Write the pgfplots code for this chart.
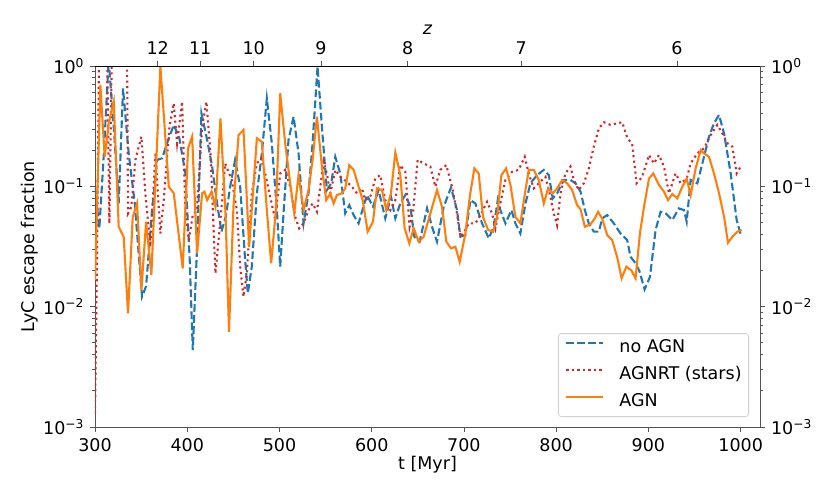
\documentclass[border=0pt]{standalone}
\usepackage{fontspec}
\setmainfont{DejaVu Sans}
\usepackage{pgfplots}
\pgfplotsset{compat=1.18}
\definecolor{tabblue}{HTML}{1F77B4}
\definecolor{tabred}{HTML}{D62728}
\definecolor{taborange}{HTML}{FF7F0E}
\definecolor{spine}{HTML}{555555}
\begin{document}
\fontsize{17.5}{21}\selectfont
\begin{tikzpicture}
\begin{axis}[name=main,
  scale only axis, width=665pt, height=361pt,
  xmin=300, xmax=1021, ymode=log, ymin=1e-3, ymax=1,
  ytick={0.001,0.01,0.1,1},
  yticklabels={10\textsuperscript{−3},10\textsuperscript{−2},10\textsuperscript{−1},10\textsuperscript{0}},
  /pgf/number format/assume math mode=true,
  /pgf/number format/1000 sep={},
  tick align=outside, major tick length=5pt, minor tick length=3pt,
  tick style={spine, line width=0.8pt},
  axis x line*=bottom, axis y line*=left,
  axis line style={spine, line width=0.8pt},
  xtick={300,400,...,1000},
  xlabel={t [Myr]}, ylabel={LyC escape fraction},
  xlabel style={at={(axis description cs:0.5,-0.105)}, anchor=center},
  ylabel style={at={(axis description cs:-0.0977,0.5)}, anchor=center},
  legend cell align=left,
  legend style={at={(1,0)}, anchor=south east, xshift=-11pt, yshift=10pt,
    draw=black!18, line width=0.8pt, rounded corners=3pt, fill=white, fill opacity=0.8, text opacity=1,
    inner xsep=7pt, inner ysep=6pt, row sep=10pt,
    nodes={inner sep=0pt, text height=13pt, text depth=4pt}},
  legend image code/.code={\draw[#1] (0pt,5pt) -- (37pt,5pt); \path (52pt,5pt);},
]
\addplot[tabblue, line width=2.1pt, dash pattern=on 7.7pt off 3.3pt] coordinates {
(300,0.099)(304.7,0.0447)(309.4,0.176)(314.8,1.12)(320.3,0.313)(325.7,0.0724)(330.4,0.652)(336.5,0.188)(343.1,0.0724)(351,0.0121)(355.4,0.0148)(361.9,0.0635)(367.3,0.166)(372.7,0.171)(378.1,0.228)(385.4,0.324)(391.5,0.251)(398,0.128)(402.7,0.0244)(406,0.00436)(410.7,0.0315)(415.4,0.405)(421.6,0.243)(427,0.146)(432.4,0.0721)(437.1,0.042)(442,0.057)(446.5,0.0993)(451.9,0.166)(457.4,0.0993)(462.8,0.0244)(465.7,0.0129)(470,0.0215)(475.5,0.0875)(480.9,0.188)(486.3,0.538)(491.7,0.228)(497.2,0.0635)(500.8,0.0215)(504.4,0.0596)(509.8,0.243)(515.3,0.379)(520.7,0.188)(526.1,0.0492)(531.5,0.0875)(535.9,0.228)(541.3,0.989)(546,0.313)(551.4,0.0931)(556.1,0.106)(560.5,0.176)(565.9,0.128)(571.3,0.0596)(575.7,0.0698)(580.4,0.0577)(585.8,0.0492)(589,0.06)(594.8,0.0847)(601.4,0.0678)(607.5,0.0931)(614.7,0.0542)(620.9,0.082)(625.6,0.0542)(631,0.0721)(636.4,0.0847)(641.9,0.0678)(646.2,0.0381)(652,0.0347)(660,0.0656)(665.4,0.0461)(670.8,0.0347)(678.1,0.0678)(686,0.0979)(692.5,0.0635)(696.1,0.0381)(701.6,0.0394)(707,0.0769)(712.4,0.0721)(719.7,0.0492)(726.9,0.037)(732.3,0.0461)(736.7,0.0769)(739.5,0.0635)(745,0.0492)(751.5,0.0635)(755.8,0.0492)(761.2,0.0406)(766.7,0.0721)(772.1,0.106)(779.3,0.124)(786.6,0.137)(792,0.124)(796.3,0.0794)(801,0.0875)(808.3,0.113)(815.5,0.113)(820.9,0.106)(826.4,0.0904)(831.1,0.0635)(835.4,0.0492)(840.8,0.042)(846.3,0.042)(849.9,0.0542)(855.3,0.0577)(862.5,0.0492)(869.8,0.0406)(877,0.0358)(880.6,0.026)(886.1,0.0229)(890,0.02)(895.9,0.0139)(901.7,0.0177)(907.8,0.0434)(913.2,0.0615)(918.7,0.0596)(925.9,0.0525)(933.1,0.0656)(938.6,0.0635)(941.5,0.0508)(945.8,0.113)(953,0.106)(958.5,0.155)(965.7,0.259)(971.1,0.334)(976.6,0.392)(982,0.275)(989.2,0.128)(995.7,0.0525)(1000.8,0.0381)
};
\addlegendentry{no AGN}
\addplot[tabred, line width=2.1pt, dash pattern=on 2.1pt off 3.4pt] coordinates {
(300,0.0013)(302,0.02)(304.5,1.5)(309.4,1.5)(313,1.5)(315.6,0.0492)(318.4,1.5)(326,2)(334.7,1.5)(335.8,0.0596)(339.4,0.0676)(343.8,0.166)(350.3,0.259)(354.6,0.0871)(360.1,0.0316)(365.5,0.188)(370.9,0.0406)(374.5,0.0769)(380.7,0.313)(385.4,0.49)(389,0.228)(394.4,0.506)(398,0.0635)(401.7,0.0358)(406,0.0577)(410.5,0.063)(416.1,0.313)(420.8,0.506)(425.2,0.188)(430.6,0.0189)(436,0.0525)(441.1,0.155)(448.3,0.113)(453.8,0.0635)(457.4,0.0215)(461,0.0121)(464.6,0.0189)(470,0.0875)(475.5,0.155)(480.2,0.171)(484.5,0.128)(489.9,0.082)(495.4,0.0525)(500.8,0.128)(506.2,0.137)(511.6,0.0993)(517.1,0.0558)(521.4,0.0447)(526.1,0.0492)(531.5,0.0635)(535.9,0.0721)(540.6,0.0615)(544.2,0.0993)(547.8,0.16)(551.4,0.128)(555.1,0.0875)(560.5,0.137)(565.9,0.12)(573.1,0.109)(578.6,0.0993)(584,0.0875)(589.4,0.0962)(593,0.0769)(598.5,0.082)(603.9,0.116)(609.3,0.124)(614.7,0.0769)(620.2,0.0635)(625.6,0.0769)(631,0.15)(636.4,0.132)(641.1,0.0461)(645,0.063)(649.8,0.166)(656.3,0.155)(663.6,0.146)(669,0.0993)(674.4,0.137)(680.9,0.15)(687.1,0.0993)(692.5,0.0596)(696.1,0.0381)(700.5,0.042)(705.2,0.0492)(712.4,0.0492)(717.9,0.0577)(725.1,0.0745)(730.5,0.0596)(734.1,0.0448)(739.5,0.0721)(745,0.113)(752.2,0.132)(759.4,0.137)(765.9,0.176)(770.3,0.128)(775.7,0.0962)(781.1,0.106)(788.4,0.12)(793.8,0.082)(797.4,0.0596)(801,0.0476)(804.7,0.0875)(810.1,0.128)(815.5,0.146)(819.1,0.113)(824.5,0.0933)(830,0.106)(835.4,0.141)(840.8,0.214)(846.3,0.303)(851.7,0.341)(858.9,0.324)(866.2,0.334)(871.6,0.341)(877,0.254)(882.4,0.224)(887.2,0.106)(893.3,0.12)(900.6,0.182)(906,0.155)(911.4,0.182)(916.9,0.146)(922.3,0.0875)(929.5,0.128)(935,0.106)(941.5,0.116)(945.8,0.155)(953,0.188)(960.3,0.207)(967.5,0.267)(974.7,0.324)(980.2,0.275)(985.6,0.228)(991,0.214)(995.7,0.128)(1000.8,0.15)
};
\addlegendentry{AGNRT (stars)}
\addplot[taborange, line width=2.1pt] coordinates {
(300,0.0166)(305.8,0.695)(310.5,0.176)(314.8,0.333)(320.3,0.506)(325.7,0.0461)(331.1,0.0381)(335.8,0.00879)(340.9,0.0558)(345.6,0.0721)(350.3,0.0137)(355.4,0.0508)(361.1,0.0183)(370.9,0.989)(380,0.0993)(385.4,0.0875)(395.1,0.0208)(400.9,0.207)(405.3,0.259)(410.7,0.0277)(416.1,0.0875)(418.7,0.0902)(421.6,0.0769)(426.3,0.0902)(430.6,0.0676)(436,0.367)(441.5,0.0596)(445.3,0.00618)(450.1,0.0676)(455.6,0.267)(461,0.294)(467.1,0.0315)(475.5,0.251)(480.9,0.235)(486.3,0.0635)(491,0.0229)(496.1,0.0635)(500.8,0.593)(506.2,0.228)(511.6,0.106)(516,0.0596)(520.7,0.124)(526.1,0.0635)(531.5,0.0931)(535.9,0.166)(540.6,0.379)(546,0.146)(550.7,0.0769)(555.1,0.0875)(558.7,0.0721)(562.3,0.0847)(567.7,0.0875)(571.3,0.0962)(575.7,0.15)(580.4,0.137)(585.8,0.0993)(590.2,0.0769)(595.6,0.042)(601.4,0.0508)(605.7,0.0962)(611.1,0.0931)(615.8,0.0635)(620.9,0.0875)(625.6,0.191)(631,0.124)(635.7,0.0448)(640.8,0.0336)(645.5,0.0448)(650.9,0.0347)(656.3,0.0381)(663.6,0.0596)(670.8,0.0931)(676.2,0.0678)(680.9,0.0347)(686,0.0305)(690.7,0.0315)(695.4,0.0236)(701.6,0.0406)(706.3,0.082)(711.3,0.141)(716,0.128)(720.7,0.0558)(726.2,0.0434)(731.6,0.042)(735.9,0.0558)(740.6,0.124)(745.7,0.141)(750.4,0.103)(755.8,0.0558)(761.2,0.0492)(766.7,0.0931)(770.3,0.137)(775.7,0.137)(781.1,0.113)(786.6,0.0721)(791.3,0.0962)(796.3,0.0875)(801,0.0962)(806.5,0.113)(811.9,0.106)(817.3,0.0931)(822.7,0.0698)(826.4,0.0646)(831.1,0.0461)(837.2,0.0484)(841.9,0.0542)(845.5,0.0615)(849.9,0.0537)(855.3,0.0394)(860.7,0.0358)(866.2,0.0257)(870.9,0.0172)(876.1,0.0215)(881.5,0.02)(886.1,0.0172)(890.8,0.0406)(895.2,0.0676)(900.6,0.116)(905.3,0.128)(911.4,0.103)(916.9,0.0902)(921.2,0.0769)(925.9,0.0863)(931.3,0.0794)(936.8,0.0993)(941.5,0.116)(945.8,0.0847)(951.2,0.141)(956.7,0.2)(960.3,0.188)(965.7,0.176)(971.1,0.128)(976.6,0.0875)(982,0.056)(986.3,0.034)(991,0.0381)(996.5,0.042)(1001.2,0.0434)
};
\addlegendentry{AGN}
\end{axis}
\begin{axis}[
  scale only axis, width=665pt, height=361pt,
  xmin=300, xmax=1021, ymode=log, ymin=1e-3, ymax=1,
  ytick={0.001,0.01,0.1,1},
  yticklabels={10\textsuperscript{−3},10\textsuperscript{−2},10\textsuperscript{−1},10\textsuperscript{0}},
  /pgf/number format/assume math mode=true,
  tick align=outside, major tick length=5pt, minor tick length=3pt,
  tick style={spine, line width=0.8pt},
  axis x line*=top, axis y line*=right,
  x axis line style={black, line width=0.8pt},
  y axis line style={spine, line width=0.8pt},
  xtick={368,414,472,545,639,762,931},
  xticklabels={12,11,10,9,8,7,6},
  xlabel={\textit{z}},
  xlabel style={at={(axis description cs:0.5,1.0997)}, anchor=center},
]
\addplot[draw=none] coordinates {(500,0.1)};
\end{axis}
\pgfresetboundingbox
\path[use as bounding box] (main.south west) ++(-95pt,-71pt) rectangle ++(830pt,498pt);
\end{tikzpicture}
\end{document}
